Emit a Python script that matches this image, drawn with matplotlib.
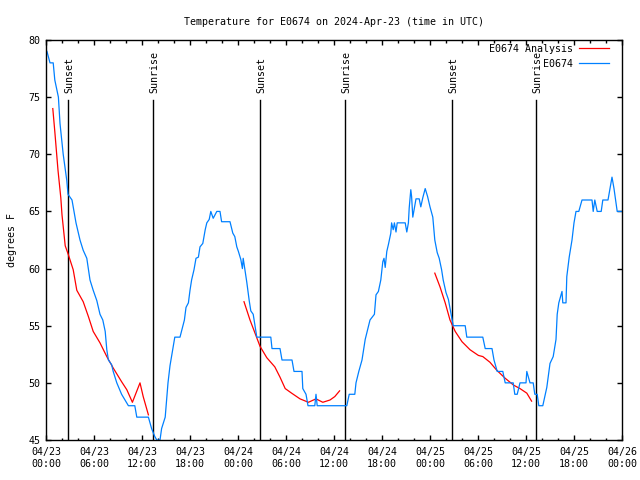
import matplotlib
matplotlib.use("Agg")
from matplotlib import pyplot as plt
import matplotlib.dates as mdates
import numpy as np
import pandas as pd

plt.rcParams['font.family'] = ['DejaVu Sans Mono']
plt.rcParams['font.size'] = 7.2

base = pd.Timestamp("2024-04-23 00:00")

# observed temperature (hours after 04/23 00:00 UTC, degrees F)
obs_hours = [0.12, 0.5, 0.9, 1.1, 1.55, 1.75, 2.15, 2.6, 2.75, 3.25, 3.75, 4.25, 4.65, 5.1,
             5.5, 5.9, 6.35, 6.75, 7.1, 7.4, 7.6, 7.8, 8.2, 8.4, 8.85, 9.45, 10.3, 11.1, 11.35,
             12.8, 13.2, 13.6, 13.85, 14.25, 14.45, 14.9, 15.25, 15.5, 16.1, 16.75, 17.3, 17.5,
             17.8, 18.0, 18.2, 18.5, 18.75, 19.05, 19.25, 19.6, 19.9, 20.1, 20.4, 20.6, 20.9,
             21.35, 21.75, 21.95, 23.0, 23.35, 23.6, 23.85, 24.05, 24.35, 24.55, 24.65, 25.1,
             25.4, 25.6, 25.9, 26.35, 28.1, 28.25, 29.25, 29.5, 30.75, 31.0, 32.0, 32.1, 32.5,
             32.75, 33.6, 33.75, 33.9, 37.6, 37.9, 38.6, 38.75, 39.1, 39.5, 39.9, 40.5, 41.05,
             41.25, 41.55, 41.85, 42.1, 42.25, 42.4, 42.6, 42.8, 43.1, 43.2, 43.4, 43.55, 43.75,
             43.9, 44.9, 45.1, 45.3, 45.4, 45.6, 45.7, 45.85, 46.0, 46.25, 46.65, 46.85, 47.1,
             47.4, 47.7, 48.0, 48.35, 48.6, 48.9, 49.15, 49.45, 49.65, 50.0, 50.3, 50.7, 50.9,
             52.4, 52.6, 54.6, 54.9, 55.75, 56.0, 56.4, 57.1, 57.4, 58.4, 58.6, 58.9, 59.25,
             60.0, 60.1, 60.5, 60.9, 61.1, 61.4, 61.6, 62.1, 62.6, 63.0, 63.4, 63.75, 63.9,
             64.1, 64.5, 64.6, 65.0, 65.1, 65.4, 65.75, 66.0, 66.25, 66.6, 67.0, 68.25, 68.4,
             68.6, 68.9, 69.4, 69.6, 70.25, 70.5, 70.75, 71.0, 71.4, 72.0]
obs_temp = [79, 78, 78, 76.5, 75, 72.7, 70, 67.7, 66.5, 66, 64, 62.5, 61.6, 60.9,
            59, 58.1, 57.2, 56, 55.5, 54.5, 52.9, 52, 51.6, 51, 50, 49, 48, 48, 47,
            47, 46, 45.3, 45, 45, 46, 47, 50, 51.5, 54, 54, 55.5, 56.6,
            57, 58.1, 59, 59.9, 60.9, 61, 61.9, 62.2, 63.4, 64, 64.3, 65, 64.4,
            65, 65, 64.1, 64.1, 63.1, 62.8, 61.9, 61.5, 60.8, 60, 60.9, 58.8,
            57.2, 56.3, 56, 54, 54, 53, 53, 52, 52, 51, 51, 49.5, 49,
            48, 48, 49, 48, 48, 49, 49, 50, 51, 52, 53.8, 55.5, 56,
            57.7, 58, 59, 60.6, 60.9, 60.1, 61.5, 62.1, 63.1, 64, 63.4, 64, 63.2,
            64, 64, 63.2, 64, 65.3, 66.9, 66.3, 64.5, 65.1, 66.1, 66.1, 65.4, 66.2,
            67, 66.3, 65.4, 64.5, 62.5, 61.4, 60.9, 59.9, 59, 57.9, 57.3, 55.8, 55,
            55, 54, 54, 53, 53, 52, 51, 51, 50, 50, 49, 49, 50,
            50, 51, 50, 50, 49, 49, 48, 48, 49.6, 51.7, 52.3, 53.8, 56,
            57, 58, 57, 57, 59.3, 61, 62.5, 64, 65, 65, 66, 66, 65,
            66, 65, 65, 66, 66, 67, 68, 67, 65, 65]

# analysis temperature, three pieces (NaN marks the gaps)
ana_hours = [0.85, 1.1, 1.5, 1.85, 2.0, 2.4, 2.8, 3.4, 3.85, 4.65, 5.3, 5.9, 6.75, 7.6, 8.4,
             9.45, 10.1, 10.8, 11.75, 12.15, 12.8, 18.0,
             24.75, 25.5, 26.1, 26.75, 27.6, 28.6, 29.25, 29.9, 30.7, 31.75, 32.8, 33.75,
             34.6, 35.5, 36.1, 36.7, 42.0,
             48.6, 49.25, 49.9, 50.5, 51.15, 52.0, 53.0, 54.05, 54.6, 55.5, 56.35, 57.4,
             58.45, 59.25, 60.1, 60.7]
ana_temp = [74, 72, 68.6, 66.2, 64.7, 62, 61.2, 59.9, 58.1, 57.1, 55.8, 54.5, 53.5, 52.3, 51.3,
            50.1, 49.4, 48.3, 50, 48.8, 47.2, np.nan,
            57.1, 55.5, 54.4, 53.2, 52.2, 51.4, 50.5, 49.5, 49.1, 48.6, 48.3, 48.6,
            48.3, 48.5, 48.8, 49.3, np.nan,
            59.6, 58.4, 57, 55.5, 54.5, 53.6, 52.9, 52.4, 52.3, 51.8, 51.1, 50.4,
            49.8, 49.5, 49.1, 48.4]

sun_hours = [2.75, 13.4, 26.75, 37.4, 50.75, 61.25]
sun_labels = ["Sunset", "Sunrise", "Sunset", "Sunrise", "Sunset", "Sunrise"]


def to_time(hours):
    return base + pd.to_timedelta(hours, unit="h")


fig = plt.figure(figsize=(6.4, 4.8), dpi=100)
ax = fig.add_axes([46 / 640, 40 / 480, 576 / 640, 400 / 480])

for h, lab in zip(sun_hours, sun_labels):
    t = to_time(h)
    ax.plot([t, t], [45, 74.75], color="black", lw=1.0)
    ax.text(to_time(h + 0.2), 75.4, lab, rotation=90, ha="center", va="bottom")

ax.plot(to_time(ana_hours), ana_temp, color="#ff0000", lw=0.9, label="E0674 Analysis")
ax.plot(to_time(obs_hours), obs_temp, color="#0080ff", lw=0.9, label="E0674")

ax.set_xlim(to_time(0), to_time(72))
ax.set_ylim(45, 80)
ax.set_yticks(range(45, 81, 5))
ax.xaxis.set_major_locator(mdates.HourLocator(byhour=[0, 6, 12, 18]))
ax.xaxis.set_minor_locator(mdates.HourLocator(interval=2))
ax.xaxis.set_major_formatter(mdates.DateFormatter("%m/%d\n%H:%M"))
ax.tick_params(which="both", direction="in", top=True, right=True, width=1.0)
ax.tick_params(which="major", length=3.5, pad=5)
ax.tick_params(which="minor", length=1.8)
ax.tick_params(axis="y", pad=4)
for s in ax.spines.values():
    s.set_linewidth(1.0)

ax.set_ylabel("degrees F", labelpad=8)
ax.set_title("Temperature for E0674 on 2024-Apr-23 (time in UTC)", fontsize=7.2, pad=11)

ax.legend(loc="upper right", bbox_to_anchor=(0.977, 0.99), frameon=False, markerfirst=False,
          handlelength=3.0, borderpad=0, borderaxespad=0, labelspacing=0.5, handletextpad=0.6)

fig.savefig("out.png", dpi=100)
